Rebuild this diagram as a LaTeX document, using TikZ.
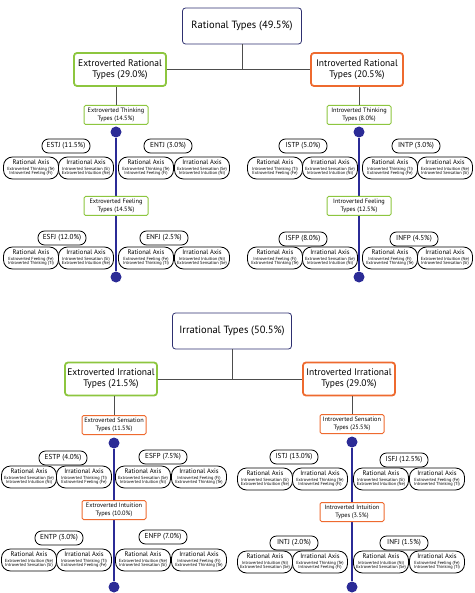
\documentclass[tikz,border=0pt]{standalone}
\usepackage{fontspec}
\setmainfont{PT Sans}
\usepackage{xcolor}
\usepackage{tikz}
\usetikzlibrary{positioning}

\definecolor{navy}{HTML}{2E3070}
\definecolor{lime}{HTML}{8DC63F}
\definecolor{tang}{HTML}{EE6A2F}
\definecolor{stem}{HTML}{2B2B96}
\definecolor{wire}{HTML}{4D4D4D}

\newcommand{\axtext}[3]{{\fontsize{6.6}{6.6}\selectfont #1}\\[0.4pt] #2\\ #3}

\begin{document}
\begin{tikzpicture}[x=1pt, y=-1pt,
    root/.style={draw=navy, line width=0.8pt, rounded corners=3pt, fill=white, minimum width=119, minimum height=36, font=\fontsize{10.5}{12}\selectfont},
    exgroup/.style={draw=lime, line width=1.8pt, rounded corners=3pt, fill=white, minimum width=92, minimum height=33, align=center, inner sep=1pt, font=\fontsize{9.5}{11}\selectfont},
    ingroup/.style={exgroup, draw=tang},
    exsub/.style={draw=lime, line width=1pt, rounded corners=1.5pt, fill=white, minimum width=64, minimum height=19, align=center, inner sep=1pt, font=\fontsize{6.3}{7.5}\selectfont},
    insub/.style={exsub, draw=tang},
    typebox/.style={draw, line width=0.8pt, rounded corners=6.5pt, fill=white, minimum width=48, minimum height=14, inner sep=1pt, font=\fontsize{7.2}{8}\selectfont},
    axisbox/.style={draw, line width=0.8pt, rounded corners=9pt, fill=white, minimum width=55, minimum height=22, inner sep=0.5pt, align=center, font=\fontsize{4.4}{4.9}\selectfont},
    ball/.style={circle, fill=stem, inner sep=0pt, minimum size=11},
    stemline/.style={stem, line width=2pt},
    wireline/.style={wire, line width=0.8pt}]
      \useasboundingbox (0, 0) rectangle (474, 593);

      % rational types
      \node[root]     (R)   at (242,  26)   {Rational Types (49.5\%)};
      \node[exgroup]  (ER)  at (120, 69.5)  {Extroverted Rational\\Types (29.0\%)};
      \node[ingroup]  (IR)  at (357, 69.5)  {Introverted Rational\\Types (20.5\%)};

      \node[ball]  (ETtop)  at (116, 132)  {};
      \node[ball]  (ETbot)  at (116, 277)  {};
      \node[ball]  (ITtop)  at (359, 132)  {};
      \node[ball]  (ITbot)  at (359, 277)  {};
      \draw[stemline] (ETtop) -- (ETbot);
      \draw[stemline] (ITtop) -- (ITbot);

      \node[exsub]  (ET)  at (116, 115)  {Extroverted Thinking\\Types (14.5\%)};
      \node[exsub]  (EF)  at (116, 206)  {Extroverted Feeling\\Types (14.5\%)};
      \node[exsub]  (IT)  at (359, 115)  {Introverted Thinking\\Types (8.0\%)};
      \node[exsub]  (IF)  at (359, 206)  {Introverted Feeling\\Types (12.5\%)};

      \node[typebox]  (ESTJ)   at ( 66, 146)  {ESTJ (11.5\%)};
      \node[axisbox]  (ESTJr)  at ( 31, 168)  {\axtext{Rational Axis}{Extroverted Thinking (Te)}{Introverted Feeling (Fi)}};
      \node[axisbox]  (ESTJi)  at ( 86, 168)  {\axtext{Irrational Axis}{Introverted Sensation (Si)}{Extroverted Intuition (Ne)}};
      \node[typebox]  (ENTJ)   at (168, 146)  {ENTJ (3.0\%)};
      \node[axisbox]  (ENTJr)  at (146, 168)  {\axtext{Rational Axis}{Extroverted Thinking (Te)}{Introverted Feeling (Fi)}};
      \node[axisbox]  (ENTJi)  at (202, 168)  {\axtext{Irrational Axis}{Extroverted Sensation (Se)}{Introverted Intuition (Ni)}};

      \node[typebox]  (ESFJ)   at ( 62, 238)  {ESFJ (12.0\%)};
      \node[axisbox]  (ESFJr)  at ( 31, 258)  {\axtext{Rational Axis}{Extroverted Feeling (Fe)}{Introverted Thinking (Ti)}};
      \node[axisbox]  (ESFJi)  at ( 86, 258)  {\axtext{Irrational Axis}{Introverted Sensation (Si)}{Extroverted Intuition (Ne)}};
      \node[typebox]  (ENFJ)   at (164, 238)  {ENFJ (2.5\%)};
      \node[axisbox]  (ENFJr)  at (146, 258)  {\axtext{Rational Axis}{Extroverted Feeling (Fe)}{Introverted Thinking (Ti)}};
      \node[axisbox]  (ENFJi)  at (202, 258)  {\axtext{Irrational Axis}{Introverted Intuition (Ni)}{Extroverted Sensation (Se)}};

      \node[typebox]  (ISTP)   at (303, 146)  {ISTP (5.0\%)};
      \node[axisbox]  (ISTPr)  at (275, 168)  {\axtext{Rational Axis}{Introverted Thinking (Ti)}{Extroverted Feeling (Fe)}};
      \node[axisbox]  (ISTPi)  at (330, 168)  {\axtext{Irrational Axis}{Extroverted Sensation (Se)}{Introverted Intuition (Ni)}};
      \node[typebox]  (INTP)   at (416, 146)  {INTP (3.0\%)};
      \node[axisbox]  (INTPr)  at (390, 168)  {\axtext{Rational Axis}{Introverted Thinking (Ti)}{Extroverted Feeling (Fe)}};
      \node[axisbox]  (INTPi)  at (445, 168)  {\axtext{Irrational Axis}{Extroverted Intuition (Ne)}{Introverted Sensation (Si)}};

      \node[typebox]  (ISFP)   at (303, 239)  {ISFP (8.0\%)};
      \node[axisbox]  (ISFPr)  at (275, 258)  {\axtext{Rational Axis}{Introverted Feeling (Fi)}{Extroverted Thinking (Te)}};
      \node[axisbox]  (ISFPi)  at (330, 258)  {\axtext{Irrational Axis}{Extroverted Sensation (Se)}{Introverted Intuition (Ni)}};
      \node[typebox]  (INFP)   at (414, 239)  {INFP (4.5\%)};
      \node[axisbox]  (INFPr)  at (390, 258)  {\axtext{Rational Axis}{Introverted Feeling (Fi)}{Extroverted Thinking (Te)}};
      \node[axisbox]  (INFPi)  at (445, 258)  {\axtext{Irrational Axis}{Extroverted Intuition (Ne)}{Introverted Sensation (Si)}};

      \draw[wireline] (ER) -- (IR);
      \draw[wireline] (R) -- (R |- ER);
      \draw[wireline] (ET) -- (ET |- ER.south);
      \draw[wireline] (IT) -- (IT |- IR.south);

      % irrational types
      \node[root]     (I)   at (232, 331)  {Irrational Types (50.5\%)};
      \node[exgroup]  (EI)  at (111, 379)  {Extroverted Irrational\\Types (21.5\%)};
      \node[ingroup]  (II)  at (349, 379)  {Introverted Irrational\\Types (29.0\%)};

      \node[ball]  (EStop)  at (114, 443)  {};
      \node[ball]  (ESbot)  at (114, 587)  {};
      \node[ball]  (IStop)  at (352, 442)  {};
      \node[ball]  (ISbot)  at (352, 587)  {};
      \draw[stemline] (EStop) -- (ESbot);
      \draw[stemline] (IStop) -- (ISbot);

      \node[insub]  (ES)  at (114, 425)  {Extroverted Sensation\\Types (11.5\%)};
      \node[insub]  (EN)  at (114, 510)  {Extroverted Intuition\\Types (10.0\%)};
      \node[insub]  (IS)  at (352, 424)  {Introverted Sensation\\Types (25.5\%)};
      \node[insub]  (IN)  at (352, 512)  {Introverted Intuition\\Types (3.5\%)};

      \node[typebox]  (ESTP)   at ( 63, 458)  {ESTP (4.0\%)};
      \node[axisbox]  (ESTPr)  at ( 29, 477)  {\axtext{Rational Axis}{Extroverted Sensation (Se)}{Introverted Intuition (Ni)}};
      \node[axisbox]  (ESTPi)  at ( 84, 477)  {\axtext{Irrational Axis}{Introverted Thinking (Ti)}{Extroverted Feeling (Fe)}};
      \node[typebox]  (ESFP)   at (163, 457)  {ESFP (7.5\%)};
      \node[axisbox]  (ESFPr)  at (143, 477)  {\axtext{Rational Axis}{Extroverted Sensation (Se)}{Introverted Intuition (Ni)}};
      \node[axisbox]  (ESFPi)  at (199, 477)  {\axtext{Irrational Axis}{Introverted Feeling (Fi)}{Extroverted Thinking (Te)}};

      \node[typebox]  (ENTP)   at ( 59, 538)  {ENTP (3.0\%)};
      \node[axisbox]  (ENTPr)  at ( 29, 560)  {\axtext{Rational Axis}{Extroverted Intuition (Ne)}{Introverted Sensation (Si)}};
      \node[axisbox]  (ENTPi)  at ( 84, 560)  {\axtext{Irrational Axis}{Introverted Thinking (Ti)}{Extroverted Feeling (Fe)}};
      \node[typebox]  (ENFP)   at (163, 537)  {ENFP (7.0\%)};
      \node[axisbox]  (ENFPr)  at (143, 560)  {\axtext{Rational Axis}{Extroverted Intuition (Ne)}{Introverted Sensation (Si)}};
      \node[axisbox]  (ENFPi)  at (199, 560)  {\axtext{Irrational Axis}{Introverted Feeling (Fi)}{Extroverted Thinking (Te)}};

      \node[typebox]  (ISTJ)   at (294, 457)  {ISTJ (13.0\%)};
      \node[axisbox]  (ISTJr)  at (265, 479)  {\axtext{Rational Axis}{Introverted Sensation (Si)}{Extroverted Intuition (Ne)}};
      \node[axisbox]  (ISTJi)  at (320, 479)  {\axtext{Irrational Axis}{Extroverted Thinking (Te)}{Introverted Feeling (Fi)}};
      \node[typebox]  (ISFJ)   at (404, 460)  {ISFJ (12.5\%)};
      \node[axisbox]  (ISFJr)  at (381, 479)  {\axtext{Rational Axis}{Introverted Sensation (Si)}{Extroverted Intuition (Ne)}};
      \node[axisbox]  (ISFJi)  at (437, 479)  {\axtext{Irrational Axis}{Extroverted Feeling (Fe)}{Introverted Thinking (Ti)}};

      \node[typebox]  (INTJ)   at (294, 543)  {INTJ (2.0\%)};
      \node[axisbox]  (INTJr)  at (265, 562)  {\axtext{Rational Axis}{Introverted Intuition (Ni)}{Extroverted Sensation (Se)}};
      \node[axisbox]  (INTJi)  at (320, 562)  {\axtext{Irrational Axis}{Extroverted Thinking (Te)}{Introverted Feeling (Fi)}};
      \node[typebox]  (INFJ)   at (404, 543)  {INFJ (1.5\%)};
      \node[axisbox]  (INFJr)  at (381, 562)  {\axtext{Rational Axis}{Introverted Intuition (Ni)}{Extroverted Sensation (Se)}};
      \node[axisbox]  (INFJi)  at (437, 562)  {\axtext{Irrational Axis}{Extroverted Feeling (Fe)}{Introverted Thinking (Ti)}};

      \draw[wireline] (EI) -- (II);
      \draw[wireline] (I) -- (I |- EI);
      \draw[wireline] (ES) -- (ES |- EI.south);
      \draw[wireline] (IS) -- (IS |- II.south);
\end{tikzpicture}
\end{document}
